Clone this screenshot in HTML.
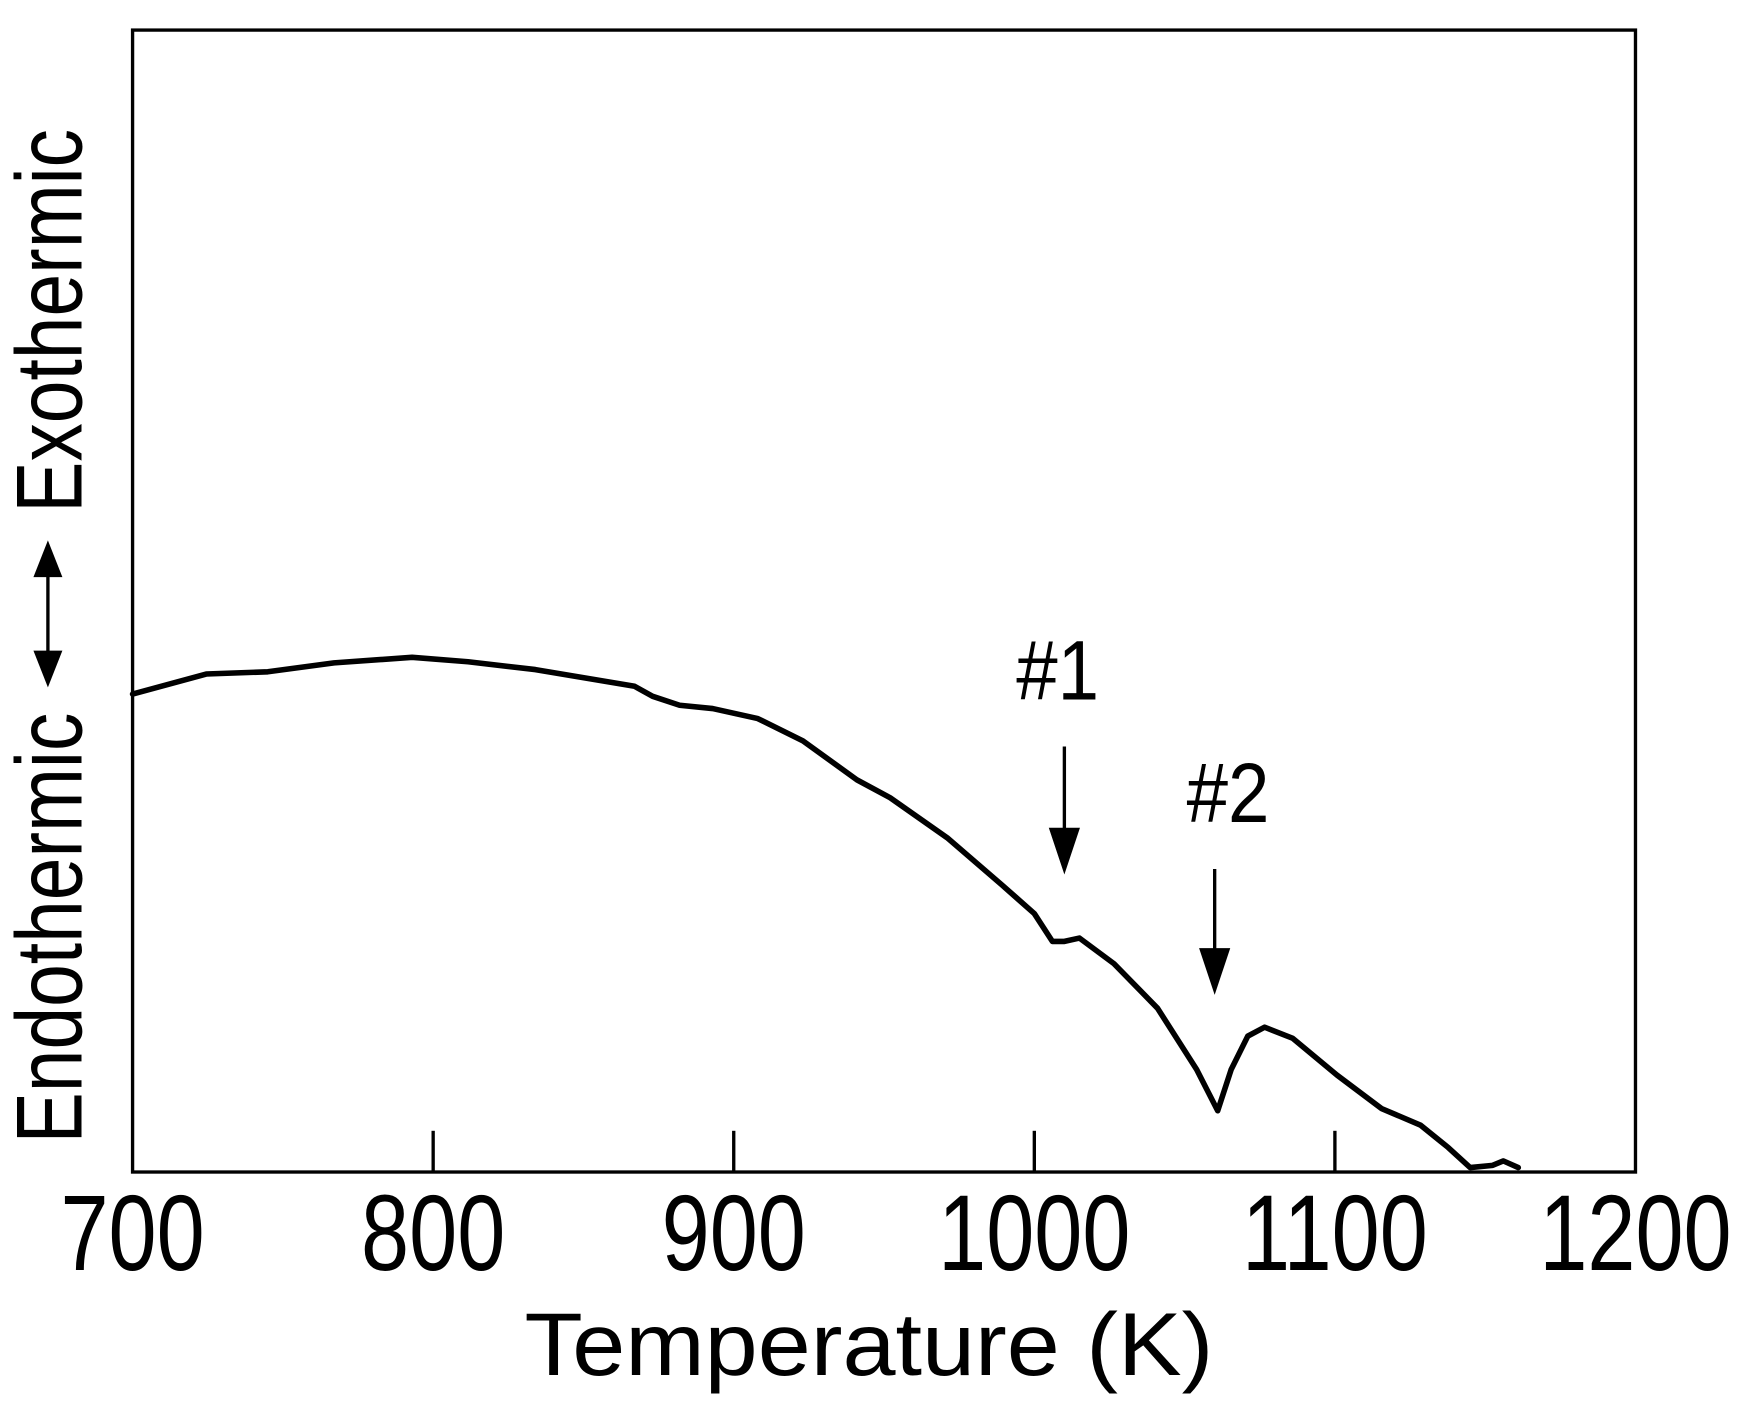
<!DOCTYPE html>
<html><head><meta charset="utf-8"><style>
html,body{margin:0;padding:0;background:#fff;}
svg{display:block;}
text{font-family:"Liberation Sans",sans-serif;fill:#000;}
</style></head><body>
<svg id="chart" width="1747" height="1414" viewBox="0 0 1568.1 1269.2" preserveAspectRatio="none" xmlns="http://www.w3.org/2000/svg">
<rect x="119" y="27" width="1349" height="1025" fill="none" stroke="#000" stroke-width="3"/>
<g id="ticks"></g>
<g id="ticklabels"></g>
<path id="curve" fill="none" stroke="#000" stroke-width="5" stroke-linejoin="round" stroke-linecap="round"/>
<g id="annots"></g>
<text x="780" y="1234" font-size="80" text-anchor="middle" transform="translate(780 0) scale(1.07 1) translate(-780 0)">Temperature (K)</text>
<g transform="translate(73 0) rotate(-90)">
  <text x="-833" y="0" font-size="84" text-anchor="middle" transform="translate(-833 0) scale(0.82 1) translate(833 0)">Endothermic</text>
  <text x="-288" y="0" font-size="84" text-anchor="middle" transform="translate(-288 0) scale(0.82 1) translate(288 0)">Exothermic</text>
</g>
<g>
  <line x1="43" y1="510" x2="43" y2="592" stroke="#000" stroke-width="3"/>
  <polygon points="43,485 30,518 56,518" fill="#000"/>
  <polygon points="43,617 30,584 56,584" fill="#000"/>
</g>
</svg>
<script>
const tickValues = [800, 900, 1000, 1100];
const tickLabels = ["700","800","900","1000","1100","1200"];
const labelValues = [700, 800, 900, 1000, 1100, 1200];
const temps = [700,724.5,745,767,793,811.6,834,867,873,882,893,908,923,941,952,971,989.5,1000,1006,1010,1015,1026.5,1041,1054,1061,1065.5,1071,1076.6,1086,1100.7,1115.5,1128.5,1137.7,1145,1152.5,1156,1161];
const heat = [429,447,449,457,462,458,451,436,427,419,416,407,387,352,336,300,257,232,207,207,210,187,147,92,55,92,122,130,120,87,57,42,22,4,6,10,4];
const peakTemps = [1010, 1060];
const peakLabels = ["#1", "#2"];
const arrowTops = [670, 780];
const arrowTips = [785, 893];

const NS = "http://www.w3.org/2000/svg";
function xs(t){ return 119 + (t-700)*(1349/500); }
function ys(v){ return 1052 - v; }

const tg = document.getElementById('ticks');
tickValues.forEach(function(t){
  const l = document.createElementNS(NS,'line');
  
  
  l.setAttribute('x1',xs(t)); l.setAttribute('x2',xs(t));
  l.setAttribute('y1',1052); l.setAttribute('y2',1015);
  l.setAttribute('stroke','#000'); l.setAttribute('stroke-width','3');
  tg.appendChild(l);
});
const lg = document.getElementById('ticklabels');
labelValues.forEach(function(t,i){
  const x = xs(t);
  const tx = document.createElementNS(NS,'text');
  
  
  tx.setAttribute('x',x); tx.setAttribute('y',1140);
  tx.setAttribute('font-size','97'); tx.setAttribute('text-anchor','middle');
  tx.setAttribute('transform','translate('+x+' 0) scale(0.8 1) translate('+(-x)+' 0)');
  tx.textContent = tickLabels[i];
  lg.appendChild(tx);
});
let d = '';
temps.forEach(function(t,i){ d += (i?'L':'M') + xs(t).toFixed(1) + ' ' + ys(heat[i]).toFixed(1) + ' '; });
document.getElementById('curve').setAttribute('d', d);

const ag = document.getElementById('annots');
peakTemps.forEach(function(t,i){
  const x = xs(t);
  const ln = document.createElementNS(NS,'line');
  
  
  ln.setAttribute('x1',x); ln.setAttribute('x2',x);
  ln.setAttribute('y1',arrowTops[i]); ln.setAttribute('y2',arrowTips[i]-30);
  ln.setAttribute('stroke','#000'); ln.setAttribute('stroke-width','3');
  ag.appendChild(ln);
  const hd = document.createElementNS(NS,'polygon');
  
  
  hd.setAttribute('points',(x-14)+','+(arrowTips[i]-42)+' '+(x+14)+','+(arrowTips[i]-42)+' '+x+','+arrowTips[i]);
  hd.setAttribute('fill','#000');
  ag.appendChild(hd);
  const lb = document.createElementNS(NS,'text');
  
  
  const lx = x + (i===0 ? -6 : 12);
  lb.setAttribute('x',lx); lb.setAttribute('y',arrowTops[i]-42);
  lb.setAttribute('font-size','76'); lb.setAttribute('text-anchor','middle');
  lb.setAttribute('transform','translate('+lx+' 0) scale(0.88 1) translate('+(-lx)+' 0)');
  lb.textContent = peakLabels[i];
  ag.appendChild(lb);
});
</script>
</body></html>
